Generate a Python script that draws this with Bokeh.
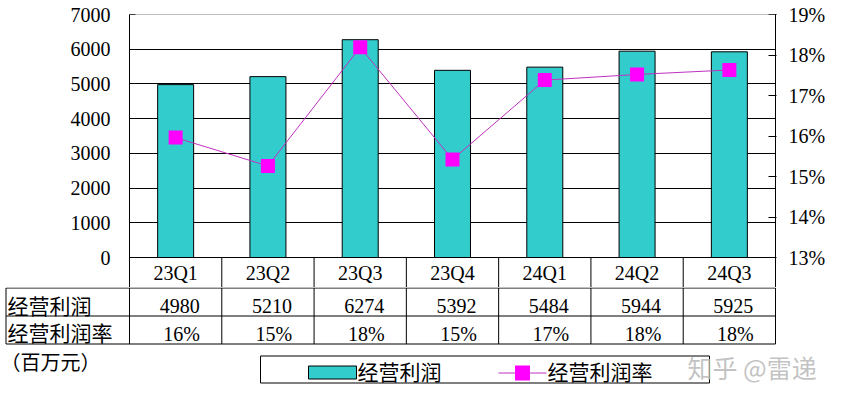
from bokeh.plotting import figure
from bokeh.layouts import column
from bokeh.models import (Range1d, FactorRange, LinearAxis, FixedTicker,
                          PrintfTickFormatter, Span)
from bokeh.core.properties import value
from bokeh.embed import file_html
from bokeh.resources import INLINE

# ---- data ----
categories = ["23Q1", "23Q2", "23Q3", "23Q4", "24Q1", "24Q2", "24Q3"]
profit = [4980, 5210, 6274, 5392, 5484, 5944, 5925]          # 经营利润 (百万元)
margin = [15.96, 15.26, 18.19, 15.42, 17.38, 17.52, 17.63]   # 经营利润率 (%)
left_ticks = [0, 1000, 2000, 3000, 4000, 5000, 6000, 7000]
pct_ticks = [13, 14, 15, 16, 17, 18, 19]
row_names = ["经营利润", "经营利润率"]
unit_note = "（百万元）"
legend_names = ["经营利润", "经营利润率"]
watermark = "知乎 @雷递"

BAR = "#33CCCC"
MAG = "#FF00FF"
LINEC = "#C030C0"
SERIF = "Liberation Serif"
CJK = "Noto Sans CJK SC"
NUMSIZE = "20px"

W = 834
LEFT, RIGHT, TOP = 129, 59, 14
PLOT_H = 243          # pixel height of the value area
CAT_H = 30            # pixel height of the category row
HA = TOP + PLOT_H + CAT_H
HB = 105
n = len(categories)

# ranges extended downward so the category row sits inside the frame
ybot = -CAT_H * (left_ticks[-1] - left_ticks[0]) / PLOT_H
pbot = pct_ticks[0] - CAT_H * (pct_ticks[-1] - pct_ticks[0]) / PLOT_H

# ---- main chart ----
p = figure(width=W, height=HA, output_backend="svg", toolbar_location=None,
           x_range=FactorRange(factors=categories, range_padding=0),
           y_range=Range1d(ybot, left_ticks[-1]),
           x_axis_location=None, y_axis_location="left",
           min_border_left=LEFT, min_border_right=RIGHT,
           min_border_top=TOP, min_border_bottom=0)
p.frame_align = False
p.extra_y_ranges = {"pct": Range1d(pbot, pct_ticks[-1])}
p.outline_line_color = None
p.background_fill_color = "white"
p.border_fill_color = "white"
p.xgrid.grid_line_color = None
p.ygrid.ticker = FixedTicker(ticks=left_ticks[:-1])
p.ygrid.grid_line_color = "black"
p.ygrid.grid_line_width = 1
p.add_layout(Span(location=left_ticks[-1], dimension="width",
                  line_color="#808080", line_width=1))

ya = p.yaxis[0]
ya.ticker = FixedTicker(ticks=left_ticks)
ya.formatter = PrintfTickFormatter(format="%d")
ya.axis_line_color = "black"
ya.major_tick_in = 6
ya.major_tick_out = 0
ya.minor_tick_line_color = None
ya.major_tick_line_color = "black"
ya.major_label_standoff = 19
ya.major_label_text_font = SERIF
ya.major_label_text_font_size = NUMSIZE
ya.major_label_text_color = "black"

ra = LinearAxis(y_range_name="pct", ticker=FixedTicker(ticks=pct_ticks),
                formatter=PrintfTickFormatter(format="%d%%"))
ra.axis_line_color = "black"
ra.major_tick_in = 7
ra.major_tick_out = 1
ra.minor_tick_line_color = None
ra.major_label_standoff = 12
ra.major_label_text_font = SERIF
ra.major_label_text_font_size = NUMSIZE
ra.major_label_text_color = "black"
p.add_layout(ra, "right")

p.vbar(x=categories, top=profit, width=0.39, fill_color=BAR,
       line_color="black", line_width=1)
p.line(x=categories, y=margin, y_range_name="pct", line_color=LINEC, line_width=1)
p.scatter(x=categories, y=margin, y_range_name="pct", marker="square", size=14,
          fill_color=MAG, line_color=None)

# category row (inside the frame, below 0)
bounds = list(range(n + 1))
p.segment(x0=bounds, y0=[0] * (n + 1), x1=bounds, y1=[ybot] * (n + 1),
          line_color="black", line_width=1)
p.text(x=categories, y=[ybot / 2] * n, text=categories, text_font=value(SERIF),
       text_font_size=NUMSIZE, text_align="center", text_baseline="middle",
       text_color="black")

# ---- data table rows + legend ----
colw = (W - LEFT - RIGHT) / n
def u(xref):
    return (xref - LEFT) / colw

t = figure(width=W, height=HB, output_backend="svg", toolbar_location=None,
           x_range=Range1d(u(0), u(W)), y_range=Range1d(HB, 0),
           x_axis_location=None, y_axis_location=None, min_border=0,
           min_border_left=0, min_border_right=0, min_border_top=0,
           min_border_bottom=0)
t.frame_align = False
t.outline_line_color = None
t.xgrid.visible = False
t.ygrid.visible = False
t.background_fill_color = "white"
t.border_fill_color = "white"

hx = u(5.5)
rows_y = [0.5, 28.5, 56.5]
sx0, sy0, sx1, sy1 = [], [], [], []
for yy in rows_y:
    sx0.append(hx); sx1.append(n); sy0.append(yy); sy1.append(yy)
for xx in [hx] + bounds:
    sx0.append(xx); sx1.append(xx); sy0.append(rows_y[0]); sy1.append(rows_y[-1])
t.segment(x0=sx0, y0=sy0, x1=sx1, y1=sy1, line_color="black", line_width=1)

cx = [i + 0.5 for i in range(n)]
t.text(x=cx, y=[18.5] * n, text=[str(v) for v in profit], x_offset=4,
       text_font=value(SERIF), text_font_size=NUMSIZE, text_align="center",
       text_baseline="middle", text_color="black")
t.text(x=cx, y=[46.3] * n, text=[f"{round(m)}%" for m in margin], x_offset=6,
       text_font=value(SERIF), text_font_size=NUMSIZE, text_align="center",
       text_baseline="middle", text_color="black")
t.text(x=[u(7), u(7)], y=[17.5, 44.5], text=row_names, text_font=value(CJK),
       text_font_size="21px", text_align="left", text_baseline="middle",
       text_color="black")
t.text(x=[u(0)], y=[74], text=[unit_note], text_font=value(CJK),
       text_font_size="20px", text_align="left", text_baseline="middle",
       text_color="black")

# legend
t.quad(left=[u(260)], right=[u(709)], top=[68.5], bottom=[95.5],
       fill_color="white", line_color="black", line_width=1)
t.quad(left=[u(308)], right=[u(356)], top=[78.5], bottom=[91.5],
       fill_color=BAR, line_color="black", line_width=1)
t.segment(x0=[u(498)], y0=[85.5], x1=[u(546)], y1=[85.5],
          line_color=LINEC, line_width=1)
t.scatter(x=[u(522)], y=[85.5], marker="square", size=15,
          fill_color=MAG, line_color=None)
t.text(x=[u(357), u(547)], y=[83.5, 83.5], text=legend_names,
       text_font=value(CJK), text_font_size="21px", text_align="left",
       text_baseline="middle", text_color="black")

# watermark
t.text(x=[u(687)], y=[79], text=[watermark], text_font=value(CJK),
       text_font_size="25px", text_align="left", text_baseline="middle",
       text_color="#b8b8b8", text_alpha=0.85)

layout = column(p, t)
open("out.html", "w").write(file_html(layout, INLINE))
